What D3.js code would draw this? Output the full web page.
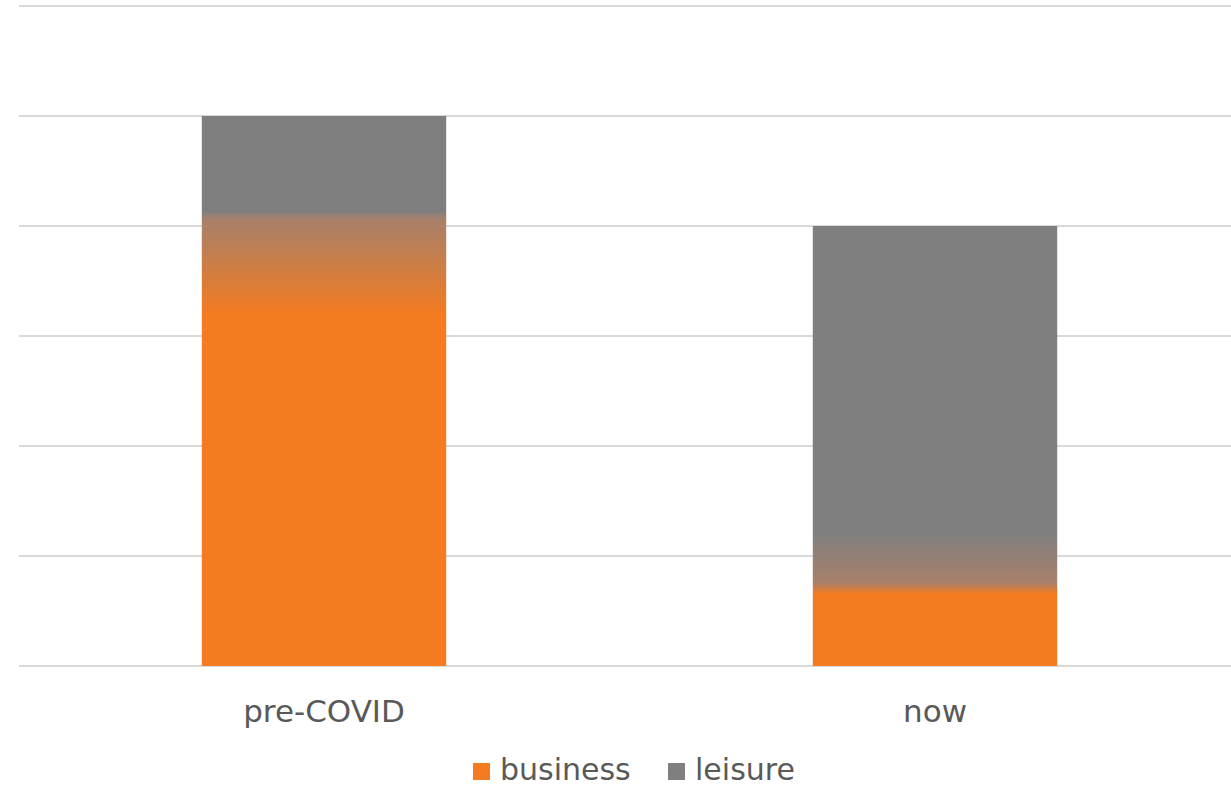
<!DOCTYPE html>
<html>
<head>
<meta charset="utf-8">
<script src="https://cdn.jsdelivr.net/npm/d3@7"></script>
<style>
  html, body { margin: 0; padding: 0; background: #fff; }
  svg { display: block; font-family: "DejaVu Sans", Verdana, sans-serif; }
</style>
</head>
<body>
<svg id="chart" width="1231" height="787"></svg>
<script>
// Travel mix: share of trips by purpose
const categories = ["pre-COVID", "now"];
const seriesNames = ["business", "leisure"];
const business = [82, 14];
const leisure = [18, 66];
const yTicks = [0, 20, 40, 60, 80, 100, 120];

const colors = { business: "#f47b20", leisure: "#7f7f7f", blend: "#a8806a" };

const svg = d3.select("#chart");
const W = 1231;
const H = 787;
const margin = { left: 19, top: 6, bottom: 121 };

const x = d3.scaleBand()
  .domain(categories)
  .range([18.5, 1240.5])
  .paddingInner(0.6)
  .paddingOuter(0.3);

const y = d3.scaleLinear()
  .domain([0, 120])
  .range([H - margin.bottom, margin.top]);

// gridlines
svg.append("g")
  .selectAll("line")
  .data(yTicks)
  .join("line")
  .attr("x1", margin.left)
  .attr("x2", W)
  .attr("y1", d => y(d))
  .attr("y2", d => y(d))
  .attr("stroke", "#d9d9d9")
  .attr("stroke-width", 2);

// stacked data
const rows = categories.map((c, i) => ({ cat: c, business: business[i], leisure: leisure[i] }));
const stack = d3.stack().keys(seriesNames)(rows);

// soft blend between the two segments of each bar (pixel offsets from the boundary)
const blends = [
  { grayEnd: -4, blendAt: 5, orangeAt: 100 },
  { grayEnd: -57, blendAt: -6, orangeAt: 5 }
];

const defs = svg.append("defs");
rows.forEach((r, i) => {
  const top = y(r.business + r.leisure);
  const bottom = y(0);
  const boundary = y(r.business);
  const h = bottom - top;
  const off = px => Math.max(0, Math.min(1, (boundary + px - top) / h));
  const b = blends[i];
  const g = defs.append("linearGradient")
    .attr("id", "grad" + i)
    .attr("gradientUnits", "userSpaceOnUse")
    .attr("x1", 0).attr("x2", 0)
    .attr("y1", top).attr("y2", bottom);
  [
    [0, colors.leisure],
    [off(b.grayEnd), colors.leisure],
    [off(b.blendAt), colors.blend],
    [off(b.orangeAt), colors.business],
    [1, colors.business]
  ].forEach(([o, c]) => g.append("stop").attr("offset", o).attr("stop-color", c));
});

// bars: each stacked segment shares its bar's vertical gradient
svg.append("g")
  .selectAll("g")
  .data(stack)
  .join("g")
  .selectAll("rect")
  .data(d => d)
  .join("rect")
  .attr("x", d => x(d.data.cat))
  .attr("width", x.bandwidth())
  .attr("y", d => y(d[1]))
  .attr("height", d => y(d[0]) - y(d[1]))
  .attr("fill", d => "url(#grad" + categories.indexOf(d.data.cat) + ")");

// category axis labels
const xAxis = d3.axisBottom(x).tickSize(0).tickPadding(0);
const gx = svg.append("g")
  .attr("transform", `translate(0,${y(0)})`)
  .call(xAxis);
gx.select(".domain").remove();
gx.selectAll("text")
  .attr("y", 56)
  .attr("dy", null)
  .attr("font-size", 31)
  .attr("font-family", "\"DejaVu Sans\", Verdana, sans-serif")
  .attr("fill", "#595959");

// legend
const legendItems = [
  { name: "business", color: colors.business, x: 473 },
  { name: "leisure", color: colors.leisure, x: 668 }
];
const lg = svg.append("g");
legendItems.forEach(it => {
  lg.append("rect")
    .attr("x", it.x).attr("y", 763)
    .attr("width", 17).attr("height", 17)
    .attr("fill", it.color);
  lg.append("text")
    .attr("x", it.x + 27).attr("y", 780)
    .attr("font-size", 30)
    .attr("fill", "#595959")
    .text(it.name);
});
</script>
</body>
</html>
